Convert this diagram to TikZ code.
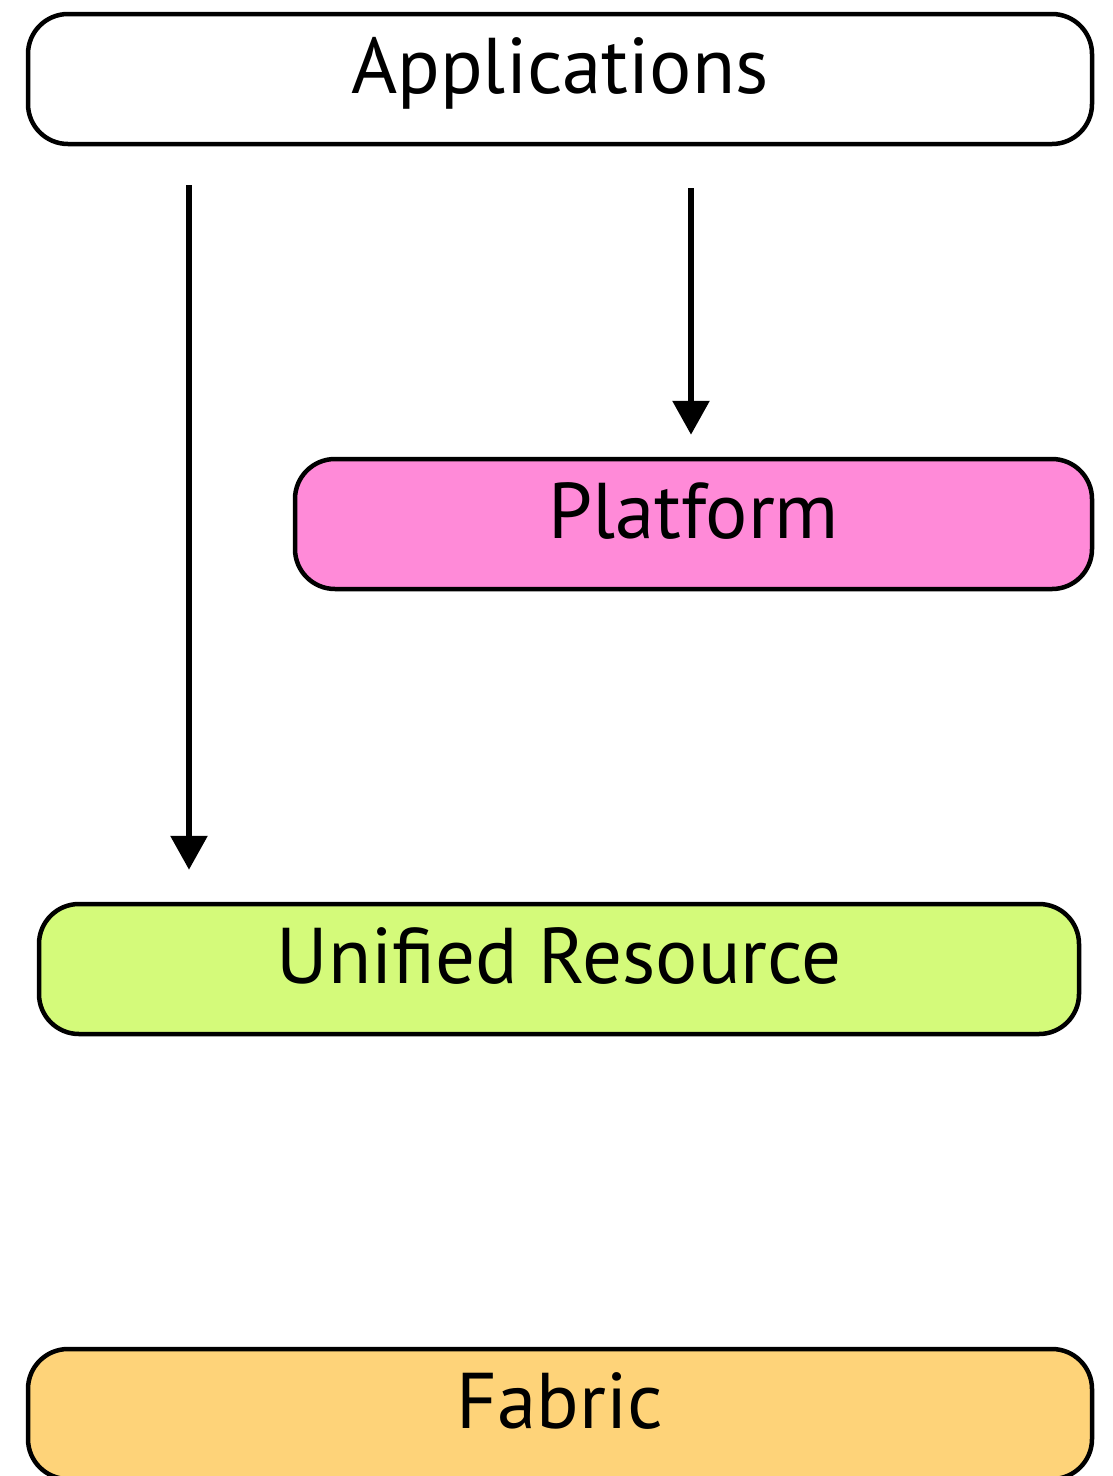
\documentclass[tikz,border=0pt]{standalone}
\usepackage{fontspec}
\setmainfont{PT Sans}
\usetikzlibrary{arrows.meta}
\definecolor{platformpink}{HTML}{FF8AD8}
\definecolor{unifiedgreen}{HTML}{D4FA7A}
\definecolor{fabricorange}{HTML}{FED379}
\begin{document}
\begin{tikzpicture}[x=1pt, y=-1pt,
  layer/.style={shape=rectangle, draw=black, line width=4.5pt, rounded corners=40pt,
    minimum height=130pt, text height=50pt, text depth=22pt,
    font=\fontsize{79}{88}\selectfont},
  flow/.style={-{Triangle[width=36pt,length=34pt]}, line width=6pt, draw=black}]
\useasboundingbox (0,0) rectangle (1113,1476);
\node[layer, fill=white, minimum width=1064pt] (apps) at (560,79) {Applications};
\node[layer, fill=platformpink, minimum width=797pt] (platform) at (693.5,524) {Platform};
\node[layer, fill=unifiedgreen, minimum width=1040pt] (unified) at (559,969) {Unified Resource};
\node[layer, fill=fabricorange, minimum width=1064pt] (fabric) at (560,1414) {Fabric};
\coordinate (leftx) at (189,0);
\coordinate (rightx) at (691,0);
\draw [flow, shorten <=39pt, shorten >=32pt] (apps.south -| leftx) -- (unified.north -| leftx);
\draw [flow, shorten <=42pt, shorten >=22pt] (apps.south -| rightx) -- (platform.north -| rightx);
\end{tikzpicture}
\end{document}
